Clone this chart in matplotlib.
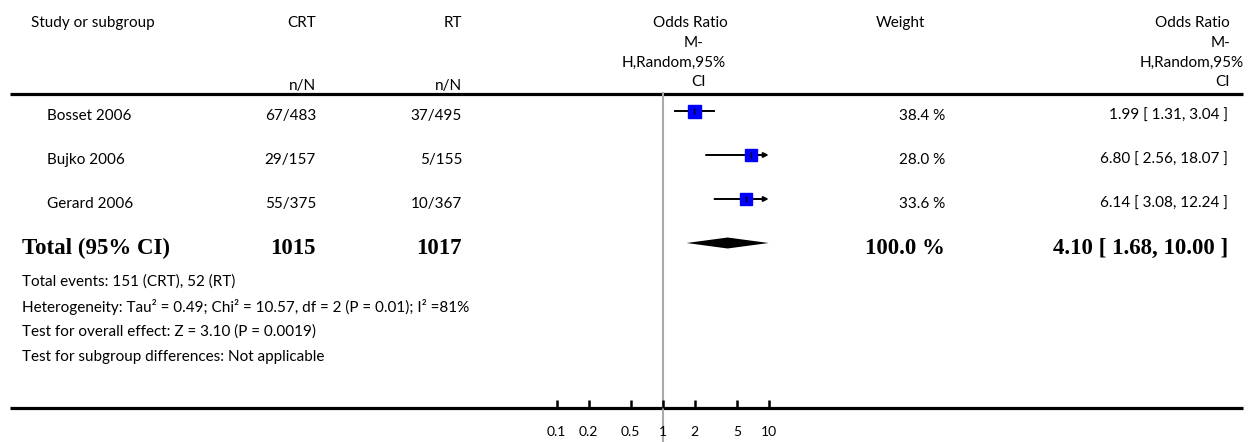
import matplotlib
matplotlib.use("Agg")
import matplotlib.pyplot as plt
import numpy as np

# data
studies = ['Bosset 2006', 'Bujko 2006', 'Gerard 2006']
crt_events = ['67/483', '29/157', '55/375']
rt_events = ['37/495', '5/155', '10/367']
odds = [1.99, 6.80, 6.14]
ci_lo = [1.31, 2.56, 3.08]
ci_hi = [3.04, 18.07, 12.24]
weights = [38.4, 28.0, 33.6]

total_crt = 1015
total_rt = 1017
total_or = 4.10
total_lo = 1.68
total_hi = 10.00
total_weight = 100.0

footer = ['Total events: 151 (CRT), 52 (RT)',
          'Heterogeneity: Tau\u00b2 = 0.49; Chi\u00b2 = 10.57, df = 2 (P = 0.01); I\u00b2 =81%',
          'Test for overall effect: Z = 3.10 (P = 0.0019)',
          'Test for subgroup differences: Not applicable']

ticks = [0.1, 0.2, 0.5, 1, 2, 5, 10]
tick_labels = ['0.1', '0.2', '0.5', '1', '2', '5', '10']

W, H = 1258, 442
sans = ['Lato', 'DejaVu Sans']
serif = ['Liberation Serif', 'DejaVu Serif']
fs = 11
bfs = 16.5

fig = plt.figure(figsize=(W / 100, H / 100), dpi=100)
ax0 = fig.add_axes([0, 0, 1, 1])
ax0.set_xlim(0, W)
ax0.set_ylim(H, 0)
ax0.axis('off')

# header
hy = 23
ax0.text(31, hy, 'Study or subgroup', ha='left', va='center', fontsize=fs, family=sans)
ax0.text(316, hy, 'CRT', ha='right', va='center', fontsize=fs, family=sans)
ax0.text(462, hy, 'RT', ha='right', va='center', fontsize=fs, family=sans)
ax0.text(316, 86, 'n/N', ha='right', va='center', fontsize=fs, family=sans)
ax0.text(462, 86, 'n/N', ha='right', va='center', fontsize=fs, family=sans)
for txt, x, y in [('Odds Ratio', 690, 23), ('M-', 694, 43), ('H,Random,95%', 674, 63), ('CI', 698, 82)]:
    ax0.text(x, y, txt, ha='center', va='center', fontsize=fs, family=sans)
ax0.text(900, hy, 'Weight', ha='center', va='center', fontsize=fs, family=sans)
for txt, y in [('Odds Ratio', 23), ('M-', 43), ('H,Random,95%', 63), ('CI', 82)]:
    ax0.text(1244 if txt.startswith('H') else 1230, y, txt, ha='right', va='center', fontsize=fs, family=sans)

ax0.plot([10, 1243], [93.5, 93.5], color='black', lw=2.3, solid_capstyle='butt')
ax0.plot([10, 1243], [408, 408], color='black', lw=2.3, solid_capstyle='butt')

row_y = [111, 155, 199]
total_y = 243
for i, name in enumerate(studies):
    ty = row_y[i] + 5
    ax0.text(47, ty, name, ha='left', va='center', fontsize=fs, family=sans)
    ax0.text(316, ty, crt_events[i], ha='right', va='center', fontsize=fs, family=sans)
    ax0.text(462, ty, rt_events[i], ha='right', va='center', fontsize=fs, family=sans)
    ax0.text(945, ty, '%.1f %%' % weights[i], ha='right', va='center', fontsize=fs, family=sans)
    ax0.text(1228, ty, '%.2f [ %.2f, %.2f ]' % (odds[i], ci_lo[i], ci_hi[i]),
             ha='right', va='center', fontsize=fs, family=sans)

ty = total_y + 5
ax0.text(22, ty, 'Total (95% CI)', ha='left', va='center', fontsize=bfs, family=serif, weight='bold')
ax0.text(316, ty, str(total_crt), ha='right', va='center', fontsize=bfs, family=serif, weight='bold')
ax0.text(462, ty, str(total_rt), ha='right', va='center', fontsize=bfs, family=serif, weight='bold')
ax0.text(945, ty, '%.1f %%' % total_weight, ha='right', va='center', fontsize=bfs, family=serif, weight='bold')
ax0.text(1228, ty, '%.2f [ %.2f, %.2f ]' % (total_or, total_lo, total_hi),
         ha='right', va='center', fontsize=bfs, family=serif, weight='bold')

for k, line in enumerate(footer):
    ax0.text(22, 282 + 25 * k, line, ha='left', va='center', fontsize=fs, family=sans)

# forest panel, log scale: 1 at x=662.7 px, 106 px per decade
px_dec = 106.0
x1 = 662.7
lo_lim, hi_lim = 0.02, 50
left_px = x1 - px_dec * np.log10(1 / lo_lim)
width_px = px_dec * np.log10(hi_lim / lo_lim)
top_px, bot_px = 93.5, 408
ax = fig.add_axes([left_px / W, (H - bot_px) / H, width_px / W, (bot_px - top_px) / H])
ax.set_xscale('log')
ax.set_xlim(lo_lim, hi_lim)
ax.set_ylim(bot_px, top_px)
ax.patch.set_alpha(0)
for s in ax.spines.values():
    s.set_visible(False)
ax.set_yticks([])
ax.set_xticks(ticks)
ax.set_xticklabels(tick_labels, family=sans, fontsize=10)
ax.xaxis.set_minor_locator(matplotlib.ticker.NullLocator())
ax.tick_params(axis='x', direction='in', length=6, width=1.8, pad=13)

ax.plot([1, 1], [top_px, 442], color='#aaaaaa', lw=1.5, clip_on=False, zorder=1)

for i in range(len(studies)):
    y = row_y[i]
    hi = min(ci_hi[i], 10)
    if ci_hi[i] > 10:
        ax.annotate('', xy=(10, y), xytext=(ci_lo[i], y),
                    arrowprops=dict(arrowstyle='-|>', color='black', lw=1.4,
                                    mutation_scale=7, shrinkA=0, shrinkB=0))
    else:
        ax.plot([ci_lo[i], hi], [y, y], color='black', lw=1.4, zorder=2)
    size = 13 * np.sqrt(weights[i] / max(weights)) * 0.72
    ax.plot(odds[i], y, marker='s', color='#0000ff', markersize=size, mec='#0000ff', zorder=3)
    ax.plot(odds[i], y, marker='|', color='black', markersize=5, mew=1, zorder=4)

dh = 5.5
ax.fill([total_lo, total_or, total_hi, total_or], [total_y, total_y - dh, total_y, total_y + dh],
        color='black', lw=0, zorder=3)

fig.savefig('out.png', dpi=100)
